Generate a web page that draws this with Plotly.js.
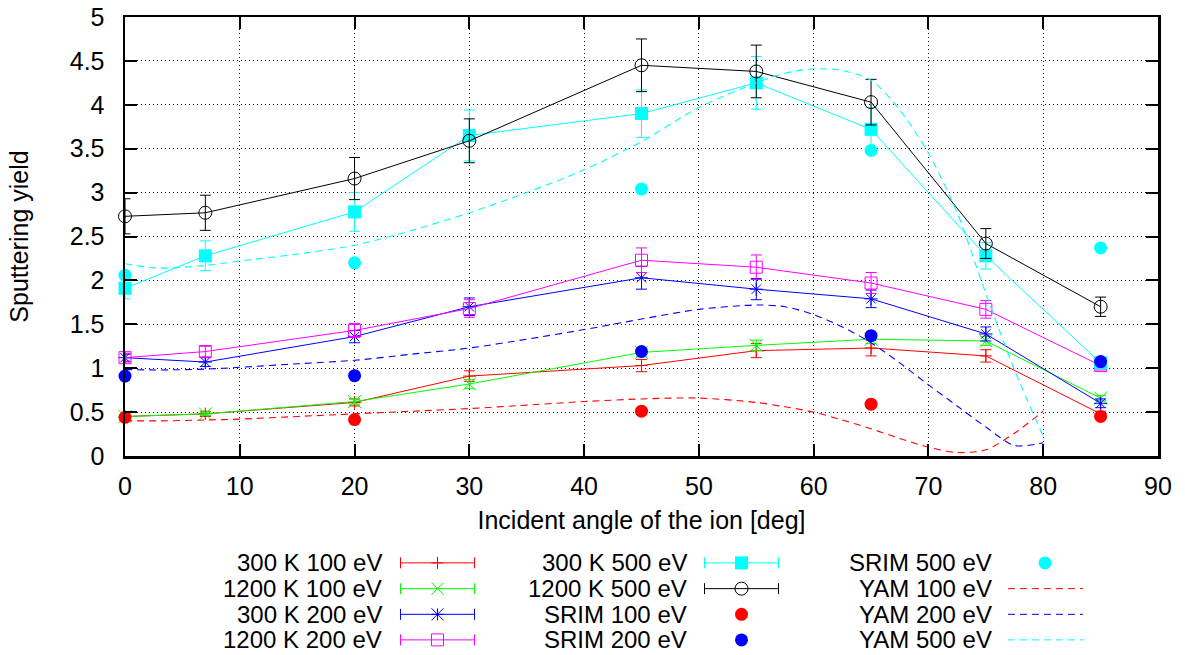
<!DOCTYPE html>
<html>
<head>
<meta charset="utf-8">
<script src="https://cdn.plot.ly/plotly-3.0.1.min.js"></script>
<style>html,body{margin:0;padding:0;background:#fff;}#plot{width:1185px;height:655px;}</style>
</head>
<body>
<div id="plot"></div>
<script>
// ---------- data ----------
const angles = [0, 7, 20, 30, 45, 55, 65, 75, 85];
const y300K100 = [0.45, 0.48, 0.61, 0.91, 1.03, 1.20, 1.23, 1.14, 0.48];
const e300K100 = [0.03, 0.03, 0.04, 0.06, 0.07, 0.08, 0.09, 0.07, 0.03];
const y1200K100 = [0.45, 0.48, 0.62, 0.82, 1.18, 1.26, 1.33, 1.31, 0.66];
const e1200K100 = [0.02, 0.02, 0.03, 0.05, 0.05, 0.06, 0.05, 0.05, 0.03];
const y300K200 = [1.12, 1.07, 1.36, 1.70, 2.03, 1.90, 1.79, 1.39, 0.60];
const e300K200 = [0.04, 0.05, 0.07, 0.10, 0.13, 0.12, 0.10, 0.08, 0.05];
const y1200K200 = [1.12, 1.19, 1.43, 1.68, 2.23, 2.15, 1.97, 1.67, 1.03];
const e1200K200 = [0.05, 0.06, 0.08, 0.10, 0.14, 0.14, 0.12, 0.10, 0.05];
const y300K500 = [1.91, 2.28, 2.78, 3.65, 3.90, 4.25, 3.72, 2.28, 1.06];
const e300K500 = [0.12, 0.17, 0.22, 0.29, 0.27, 0.30, 0.25, 0.15, 0.05];
const y1200K500 = [2.73, 2.77, 3.16, 3.59, 4.45, 4.38, 4.03, 2.42, 1.70];
const e1200K500 = [0.20, 0.20, 0.24, 0.25, 0.30, 0.30, 0.26, 0.17, 0.11];

const srimAngles = [0, 20, 45, 65, 85];
const srim100 = [0.44, 0.415, 0.51, 0.59, 0.45];
const srim200 = [0.91, 0.915, 1.19, 1.37, 1.075];
const srim500 = [2.06, 2.20, 3.04, 3.48, 2.37];

const yamAngles = [0, 3, 7, 10, 15, 20, 25, 30, 35, 40, 45, 50, 55, 57.5, 60, 62.5, 65, 67.5, 70, 72.5, 75, 77.5, 80];
const yam100 = [0.40, 0.40, 0.41, 0.42, 0.45, 0.48, 0.51, 0.54, 0.58, 0.62, 0.65, 0.66, 0.61, 0.56, 0.50, 0.41, 0.31, 0.20, 0.10, 0.04, 0.07, 0.26, 0.51];
const yam200 = [0.985, 0.98, 0.99, 1.01, 1.05, 1.09, 1.16, 1.23, 1.33, 1.44, 1.56, 1.67, 1.72, 1.70, 1.61, 1.47, 1.29, 1.06, 0.81, 0.57, 0.33, 0.12, 0.15];
const yam500 = [2.19, 2.14, 2.17, 2.22, 2.30, 2.40, 2.57, 2.77, 3.00, 3.26, 3.58, 3.97, 4.25, 4.36, 4.41, 4.39, 4.28, 3.94, 3.45, 2.77, 1.85, 0.98, 0.22];

const names = ['300 K 100 eV', '1200 K 100 eV', '300 K 200 eV', '1200 K 200 eV',
               '300 K 500 eV', '1200 K 500 eV', 'SRIM 100 eV', 'SRIM 200 eV',
               'SRIM 500 eV', 'YAM 100 eV', 'YAM 200 eV', 'YAM 500 eV'];
const xTickVals = [0, 10, 20, 30, 40, 50, 60, 70, 80, 90];
const yTickVals = [0, 0.5, 1, 1.5, 2, 2.5, 3, 3.5, 4, 4.5, 5];
const yTickText = ['0', '0.5', '1', '1.5', '2', '2.5', '3', '3.5', '4', '4.5', '5'];

// ---------- styles ----------
const RED = '#ff0000', GREEN = '#00ff00', BLUE = '#0000ff', MAG = '#ff00ff', CYAN = '#00ffff', BLACK = '#000000';
const FONT = 'Liberation Sans, Arial, sans-serif';
const FS = 25, LFS = 24;
const DASH = '7px,5px';

function errTrace(y, e, name, color, marker) {
  return {
    x: angles, y: y, name: name, type: 'scatter', mode: 'lines+markers',
    line: {color: color, width: 1},
    marker: marker,
    error_y: {type: 'data', array: e, visible: true, color: color, thickness: 1, width: 5.5},
    cliponaxis: false, showlegend: false
  };
}
function dotTrace(y, name, color) {
  return {x: srimAngles, y: y, name: name, type: 'scatter', mode: 'markers',
    marker: {symbol: 'circle', size: 13, color: color}, cliponaxis: false, showlegend: false};
}
function yamTrace(y, name, color) {
  return {x: yamAngles, y: y, name: name, type: 'scatter', mode: 'lines',
    line: {color: color, width: 1.1, dash: DASH, shape: 'spline', smoothing: 0.8},
    cliponaxis: false, showlegend: false};
}

const traces = [
  errTrace(y300K100, e300K100, names[0], RED, {symbol: 'cross-thin', size: 9, color: RED, line: {color: RED, width: 1}}),
  errTrace(y1200K100, e1200K100, names[1], GREEN, {symbol: 'x-thin', size: 13, color: GREEN, line: {color: GREEN, width: 1}}),
  errTrace(y300K200, e300K200, names[2], BLUE, {symbol: 'asterisk', size: 11, color: BLUE, line: {color: BLUE, width: 1}}),
  errTrace(y1200K200, e1200K200, names[3], MAG, {symbol: 'square-open', size: 12, color: MAG, line: {color: MAG, width: 1}}),
  errTrace(y300K500, e300K500, names[4], CYAN, {symbol: 'square', size: 13, color: CYAN, line: {width: 0}}),
  errTrace(y1200K500, e1200K500, names[5], BLACK, {symbol: 'circle-open', size: 13, color: BLACK, line: {color: BLACK, width: 1}}),
  dotTrace(srim100, names[6], RED),
  dotTrace(srim200, names[7], BLUE),
  dotTrace(srim500, names[8], CYAN),
  yamTrace(yam100, names[9], RED),
  yamTrace(yam200, names[10], BLUE),
  yamTrace(yam500, names[11], CYAN)
];

// ---------- manual gnuplot-style legend (layout only) ----------
const M = {l: 125, r: 27, t: 17, b: 198.5};
const W = 1185 - M.l - M.r, H = 655 - M.t - M.b;
const fx = px => (px - M.l) / W;
const fy = py => (M.t + H - py) / H;

const rows = [563.5, 589.3, 615.0, 640.6];
const cols = [
  {tr: 383, x0: 400.5, x1: 474.5, xm: 437.5},
  {tr: 688, x0: 704.5, x1: 778.5, xm: 741.5},
  {tr: 993, x0: 1008, x1: 1083, xm: 1045}
];
const legendKinds = [
  ['err', RED, 'plus'], ['err', GREEN, 'x'], ['err', BLUE, 'star'], ['err', MAG, 'sqopen'],
  ['err', CYAN, 'sqfill'], ['err', BLACK, 'circopen'], ['dot', RED, ''], ['dot', BLUE, ''],
  ['dot', CYAN, ''], ['dash', RED, ''], ['dash', BLUE, ''], ['dash', CYAN, '']
];

const shapes = [], annotations = [];
function segPath(cx, cy, segs) {
  return segs.map(s => 'M' + fx(cx + s[0]) + ',' + fy(cy + s[1]) + ' L' + fx(cx + s[2]) + ',' + fy(cy + s[3])).join(' ');
}
function lineShape(x0, y0, x1, y1, color, dash) {
  shapes.push({type: 'line', xref: 'paper', yref: 'paper', x0: fx(x0), y0: fy(y0), x1: fx(x1), y1: fy(y1),
    line: {color: color, width: 1, dash: dash || 'solid'}});
}
names.forEach((nm, i) => {
  const c = cols[Math.floor(i / 4)], cy = rows[i % 4];
  const k = legendKinds[i];
  annotations.push({text: nm, xref: 'paper', yref: 'paper', x: fx(c.tr), y: fy(cy), xanchor: 'right', yanchor: 'middle',
    showarrow: false, borderpad: 0, font: {family: FONT, size: LFS, color: '#000'}});
  if (k[0] === 'err') {
    lineShape(c.x0, cy, c.x1, cy, k[1]);
    lineShape(c.x0, cy - 5.5, c.x0, cy + 5.5, k[1]);
    lineShape(c.x1, cy - 5.5, c.x1, cy + 5.5, k[1]);
    const m = c.xm, r = 6;
    if (k[2] === 'plus') {
      shapes.push({type: 'path', xref: 'paper', yref: 'paper', path: segPath(m, cy, [[-r, 0, r, 0], [0, -r, 0, r]]), line: {color: k[1], width: 1}});
    } else if (k[2] === 'x') {
      shapes.push({type: 'path', xref: 'paper', yref: 'paper', path: segPath(m, cy, [[-r, -r, r, r], [-r, r, r, -r]]), line: {color: k[1], width: 1}});
    } else if (k[2] === 'star') {
      shapes.push({type: 'path', xref: 'paper', yref: 'paper', path: segPath(m, cy, [[-r, -r, r, r], [-r, r, r, -r], [-r, 0, r, 0], [0, -r, 0, r]]), line: {color: k[1], width: 1}});
    } else if (k[2] === 'sqopen') {
      shapes.push({type: 'rect', xref: 'paper', yref: 'paper', x0: fx(m - r), x1: fx(m + r), y0: fy(cy - r), y1: fy(cy + r), line: {color: k[1], width: 1}, fillcolor: 'rgba(0,0,0,0)'});
    } else if (k[2] === 'sqfill') {
      shapes.push({type: 'rect', xref: 'paper', yref: 'paper', x0: fx(m - 6.5), x1: fx(m + 6.5), y0: fy(cy - 6.5), y1: fy(cy + 6.5), line: {width: 0}, fillcolor: k[1]});
    } else if (k[2] === 'circopen') {
      shapes.push({type: 'circle', xref: 'paper', yref: 'paper', x0: fx(m - 6.5), x1: fx(m + 6.5), y0: fy(cy - 6.5), y1: fy(cy + 6.5), line: {color: k[1], width: 1}, fillcolor: 'rgba(0,0,0,0)'});
    }
  } else if (k[0] === 'dot') {
    shapes.push({type: 'circle', xref: 'paper', yref: 'paper', x0: fx(c.xm - 6.5), x1: fx(c.xm + 6.5), y0: fy(cy - 6.5), y1: fy(cy + 6.5), line: {width: 0}, fillcolor: k[1]});
  } else {
    lineShape(c.x0, cy, c.x1, cy, k[1], DASH);
  }
});

const axisCommon = {
  showline: true, linecolor: '#000', linewidth: 2.5, mirror: 'ticks',
  ticks: 'inside', ticklen: 12, tickwidth: 2, tickcolor: '#000',
  showgrid: true, gridcolor: '#111', gridwidth: 1, griddash: '1px,3px',
  zeroline: false, tickfont: {family: FONT, size: FS, color: '#000'}
};

const layout = {
  width: 1185, height: 655,
  margin: {l: M.l, r: M.r, t: M.t, b: M.b, pad: 0},
  paper_bgcolor: '#fff', plot_bgcolor: '#fff',
  font: {family: FONT, size: FS, color: '#000'},
  showlegend: false,
  xaxis: Object.assign({}, axisCommon, {
    range: [0, 90], tickmode: 'array', tickvals: xTickVals, ticklabelstandoff: 6,
    title: {text: 'Incident angle of the ion [deg]', font: {family: FONT, size: FS, color: '#000'}, standoff: 13}
  }),
  yaxis: Object.assign({}, axisCommon, {
    range: [0, 5], tickmode: 'array', tickvals: yTickVals, ticktext: yTickText, ticklabelstandoff: 13,
    title: {text: 'Sputtering yield', font: {family: FONT, size: FS, color: '#000'}, standoff: 34}
  }),
  shapes: shapes,
  annotations: annotations
};

Plotly.newPlot('plot', traces, layout, {displayModeBar: false, staticPlot: true});
</script>
</body>
</html>
